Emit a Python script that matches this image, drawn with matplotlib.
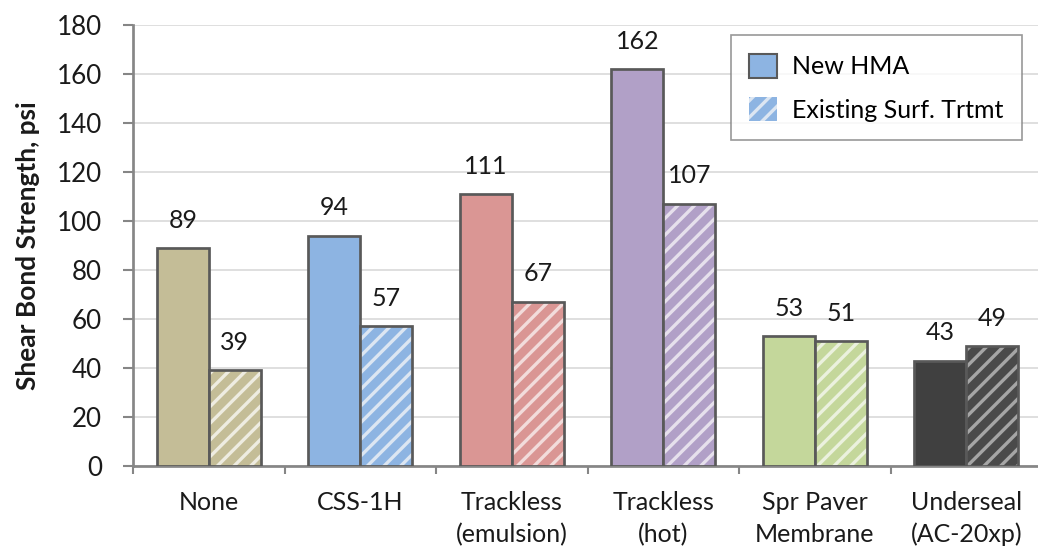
import matplotlib
matplotlib.use("Agg")
import matplotlib.pyplot as plt
import numpy as np
from matplotlib.patches import Patch

plt.rcParams['font.family'] = ['Lato', 'DejaVu Sans']
plt.rcParams['hatch.linewidth'] = 1.6

categories = ["None", "CSS-1H", "Trackless\n(emulsion)", "Trackless\n(hot)",
              "Spr Paver\nMembrane", "Underseal\n(AC-20xp)"]
new_hma = [89, 94, 111, 162, 53, 43]
existing = [39, 57, 67, 107, 51, 49]
series_names = ["New HMA", "Existing Surf. Trtmt"]

face_colors = ["#C4BD97", "#8DB4E2", "#DA9694", "#B1A0C7", "#C4D79B", "#404040"]
hatch_face = ["#C4BD97", "#8DB4E2", "#DA9694", "#B1A0C7", "#C4D79B", "#4A4A4A"]
hatch_colors = ["#EEECE1", "#DCE6F2", "#F2DCDB", "#E6E0EC", "#EBF1DE", "#A6A6A6"]
edge = "#595959"

fig = plt.figure(figsize=(10.38 / 1.5, 5.51 / 1.5), dpi=150)
ax = fig.add_axes([133 / 1038, 1 - 466 / 551, (1042 - 133) / 1038, (466 - 25) / 551])

x = np.arange(len(categories))
w = 0.343

for i in range(len(categories)):
    ax.bar(x[i] - w / 2, new_hma[i], width=w, color=face_colors[i],
           edgecolor=edge, linewidth=1.3, zorder=3)
    ax.bar(x[i] + w / 2, existing[i], width=w, color=hatch_face[i],
           edgecolor=hatch_colors[i], linewidth=0, hatch='///', zorder=3)
    ax.bar(x[i] + w / 2, existing[i], width=w, facecolor='none',
           edgecolor=edge, linewidth=1.3, zorder=4)

for i in range(len(categories)):
    for xv, v in ((x[i] - w / 2, new_hma[i]), (x[i] + w / 2, existing[i])):
        ax.annotate(f"{v}", (xv, v), xytext=(0, 13.4), textcoords='offset points',
                    ha='center', va='center', fontsize=12, color='#1a1a1a')

ax.set_xlim(-0.5, len(categories) - 0.5)
ax.set_ylim(0, 180)
ax.set_yticks(np.arange(0, 181, 20))
ax.set_xticks(x)
ax.set_xticklabels(categories, fontsize=12, color='#1a1a1a', linespacing=1.45)
ax.set_xticks(np.arange(-0.5, len(categories), 1.0), minor=True)
ax.tick_params(axis='x', which='major', length=0, pad=12)
ax.tick_params(axis='x', which='minor', length=4, color='#868686', width=1)
ax.tick_params(axis='y', length=5, color='#868686', width=1, pad=10,
               labelsize=12.5, labelcolor='#1a1a1a')

ax.yaxis.grid(True, color='#D9D9D9', linewidth=0.8, zorder=0)
ax.set_axisbelow(True)
for s in ['top', 'right']:
    ax.spines[s].set_visible(False)
for s in ['left', 'bottom']:
    ax.spines[s].set_color('#868686')
    ax.spines[s].set_linewidth(1.3)

ax.set_ylabel("Shear Bond Strength, psi", fontsize=12.6, fontweight='bold',
              color='#1a1a1a', labelpad=8)

handles = [Patch(facecolor="#8DB4E2", edgecolor=edge, linewidth=1.0),
           Patch(facecolor="#8DB4E2", edgecolor="#DCE6F2", linewidth=0, hatch='///')]
leg = ax.legend(handles, series_names, loc='upper right',
                bbox_to_anchor=((1022 - 133) / (1042 - 133), (466 - 35) / (466 - 25)),
                borderaxespad=0,
                fontsize=12, frameon=True, fancybox=False, edgecolor='#7f7f7f',
                handlelength=1.1, handleheight=1.1, labelspacing=0.75,
                borderpad=0.75, handletextpad=0.6)
leg.get_frame().set_linewidth(0.8)

fig.savefig("out.png", dpi=150)
